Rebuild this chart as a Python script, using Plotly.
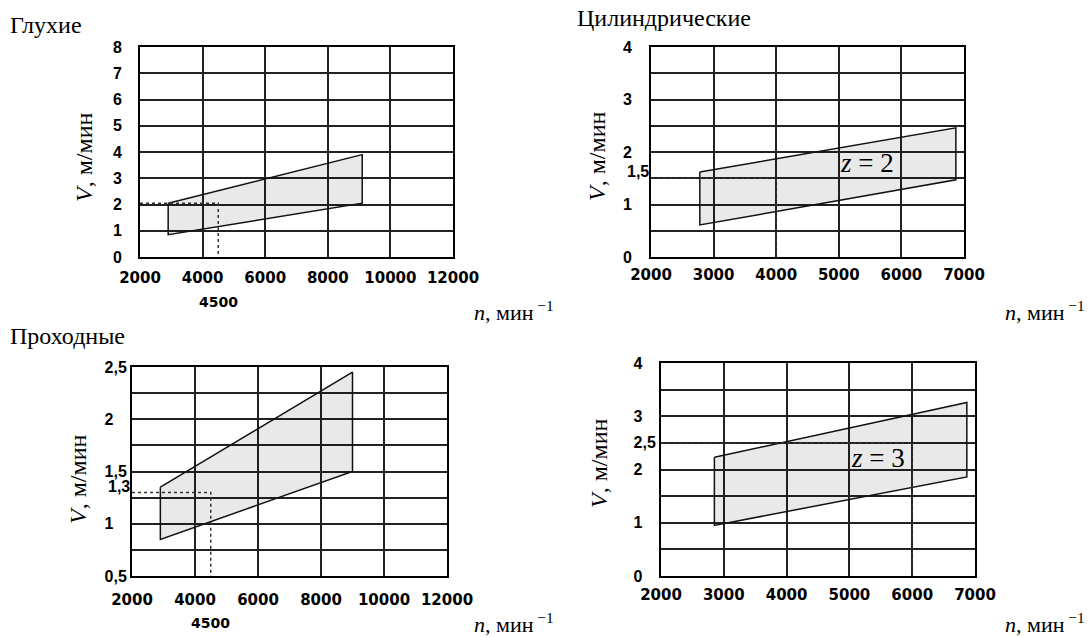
import plotly.graph_objects as go

W, H = 1088, 637

# ---------------- data ----------------
# Глухие
p1_n = [2900, 9100, 9100, 2900, 2900]
p1_v = [2.05, 3.9, 2.05, 0.85, 2.05]
p1_guide_n = [2000, 4500, 4500]
p1_guide_v = [2.05, 2.05, 0]
p1_xticks = [2000, 4000, 6000, 8000, 10000, 12000]
p1_xtext = ["2000", "4000", "6000", "8000", "10000", "12000"]
p1_yticks = [0, 1, 2, 3, 4, 5, 6, 7, 8]
p1_ytext = ["0", "1", "2", "3", "4", "5", "6", "7", "8"]
p1_extra_xlabel = "4500"
p1_extra_xvalue = 4500

# Цилиндрические, z = 2
p2_n = [2780, 6870, 6870, 2780, 2780]
p2_v = [1.62, 2.46, 1.47, 0.61, 1.62]
p2_guide_n = [2000, 4000, 4000]
p2_guide_v = [1.5, 1.5, 0]
p2_xticks = [2000, 3000, 4000, 5000, 6000, 7000]
p2_xtext = ["2000", "3000", "4000", "5000", "6000", "7000"]
p2_yticks = [0, 0.5, 1, 1.5, 2, 2.5, 3, 3.5, 4]
p2_ytext = ["0", "", "1", "", "2", "", "3", "", "4"]
p2_extra_ylabel = "1,5"
p2_extra_yvalue = 1.5

# Проходные
p3_n = [2900, 9000, 9000, 2900, 2900]
p3_v = [1.35, 2.45, 1.5, 0.85, 1.35]
p3_guide_n = [2000, 4500, 4500]
p3_guide_v = [1.3, 1.3, 0.5]
p3_xticks = [2000, 4000, 6000, 8000, 10000, 12000]
p3_xtext = ["2000", "4000", "6000", "8000", "10000", "12000"]
p3_yticks = [0.5, 0.75, 1, 1.25, 1.5, 1.75, 2, 2.25, 2.5]
p3_ytext = ["0,5", "", "1", "", "1,5", "", "2", "", "2,5"]
p3_extra_ylabel = "1,3"
p3_extra_yvalue = 1.3
p3_extra_xlabel = "4500"
p3_extra_xvalue = 4500

# Цилиндрические, z = 3
p4_n = [2850, 6870, 6870, 2850, 2850]
p4_v = [2.23, 3.26, 1.86, 0.95, 2.23]
p4_guide_n = [2000, 6000, 6000]
p4_guide_v = [2.5, 2.5, 0]
p4_xticks = [2000, 3000, 4000, 5000, 6000, 7000]
p4_xtext = ["2000", "3000", "4000", "5000", "6000", "7000"]
p4_yticks = [0, 0.5, 1, 1.5, 2, 2.5, 3, 3.5, 4]
p4_ytext = ["0", "", "1", "", "2", "2,5", "3", "", "4"]

# ---------------- figure ----------------
fig = go.Figure()

FILL = "rgba(0,0,0,0.085)"
panels = [
    (p1_n, p1_v, p1_guide_n, p1_guide_v, "x", "y"),
    (p2_n, p2_v, p2_guide_n, p2_guide_v, "x2", "y2"),
    (p3_n, p3_v, p3_guide_n, p3_guide_v, "x3", "y3"),
    (p4_n, p4_v, p4_guide_n, p4_guide_v, "x4", "y4"),
]
for pn, pv, gn, gv, xa, ya in panels:
    fig.add_trace(go.Scatter(x=pn, y=pv, xaxis=xa, yaxis=ya, mode="lines",
                             fill="toself", fillcolor=FILL,
                             line=dict(color="#111", width=1.5),
                             showlegend=False, hoverinfo="skip"))
    fig.add_trace(go.Scatter(x=gn, y=gv, xaxis=xa, yaxis=ya, mode="lines",
                             line=dict(color="#333", width=1.5, dash="3px,3px"),
                             showlegend=False, hoverinfo="skip"))

XFONT = dict(family="DejaVu Sans", size=15, color="black", weight="bold")
YFONT = dict(family="Liberation Sans", size=16, color="black", weight="bold")

# white (invisible on the white page) tail so short labels line up on the left
GHOST = '<span style="color:#ffffff">,5</span>'


def padded(texts):
    width = max(len(t) for t in texts)
    out = []
    for t in texts:
        if t and len(t) < width:
            out.append(t + GHOST)
        else:
            out.append(t if t else " ")
    return out


def blankfix(texts):
    return [t if t else " " for t in texts]


def xax(domain, rng, tv, tt, standoff, anchor):
    return dict(domain=domain, range=rng, tickmode="array", tickvals=tv, ticktext=tt,
                anchor=anchor, automargin=False,
                showline=True, linecolor="black", linewidth=2, mirror=True,
                showgrid=True, gridcolor="#222", gridwidth=1.7, zeroline=False,
                ticks="outside", ticklen=0, tickcolor="rgba(0,0,0,0)",
                ticklabelstandoff=standoff, tickfont=XFONT, fixedrange=True)


def yax(domain, rng, tv, tt, standoff, anchor):
    d = xax(domain, rng, tv, tt, standoff, anchor)
    d["tickfont"] = YFONT
    return d


def px(v):
    return v / W


def py(v):
    return 1 - v / H


fig.update_layout(
    xaxis=xax([px(140), px(453)], [2000, 12000], p1_xticks, p1_xtext, 6, "y"),
    yaxis=yax([py(257), py(47)], [0, 8], p1_yticks, blankfix(p1_ytext), 13, "x"),
    xaxis2=xax([px(651), px(964)], [2000, 7000], p2_xticks, p2_xtext, 3, "y2"),
    yaxis2=yax([py(257), py(47)], [0, 4], p2_yticks, blankfix(p2_ytext), 14, "x2"),
    xaxis3=xax([px(132), px(447)], [2000, 12000], p3_xticks, p3_xtext, 9, "y3"),
    yaxis3=yax([py(576), py(367)], [0.5, 2.5], p3_yticks, padded(p3_ytext), 0, "x3"),
    xaxis4=xax([px(661), px(975)], [2000, 7000], p4_xticks, p4_xtext, 4, "y4"),
    yaxis4=yax([py(576), py(363)], [0, 4], p4_yticks, padded(p4_ytext), 0, "x4"),
)

SERIF = "Liberation Serif"
ann = []
# panel titles
for txt, x0, y0 in [("Глухие", 8, 25), ("Цилиндрические", 575, 18), ("Проходные", 8, 336)]:
    ann.append(dict(text=txt, x=px(x0), y=py(y0), xanchor="left", yanchor="middle",
                    xref="paper", yref="paper", showarrow=False,
                    font=dict(family=SERIF, size=24, color="black")))

# y-axis titles
for cx, cy in [(84, 157), (597, 156), (78, 479), (599, 463)]:
    ann.append(dict(text="<i>V</i>, м/мин", textangle=-90, x=px(cx), y=py(cy),
                    xref="paper", yref="paper", xanchor="center", yanchor="middle",
                    showarrow=False, font=dict(family=SERIF, size=24, color="black")))
# x-axis titles
for rx, cy in [(556, 311), (1087, 311), (556, 623), (1087, 623)]:
    ann.append(dict(text="<i>n</i>, мин<sup> −1</sup>", x=px(rx), y=py(cy),
                    xref="paper", yref="paper", xanchor="right", yanchor="middle",
                    showarrow=False, font=dict(family=SERIF, size=22, color="black")))

# extra tick labels (placed slightly above their guide lines, as in the original)
ann.append(dict(text=p1_extra_xlabel, x=p1_extra_xvalue, y=py(302), xref="x", yref="paper",
                xanchor="center", yanchor="middle", showarrow=False,
                font=dict(family="DejaVu Sans", size=14, color="black", weight="bold")))
ann.append(dict(text=p3_extra_xlabel, x=p3_extra_xvalue, y=py(623), xref="x3", yref="paper",
                xanchor="center", yanchor="middle", showarrow=False,
                font=dict(family="DejaVu Sans", size=14, color="black", weight="bold")))
ann.append(dict(text=p3_extra_ylabel, x=px(106), y=p3_extra_yvalue, xref="paper", yref="y3",
                xanchor="left", yanchor="middle", yshift=6, showarrow=False, font=YFONT))
ann.append(dict(text=p2_extra_ylabel, x=px(625), y=p2_extra_yvalue, xref="paper", yref="y2",
                xanchor="left", yanchor="middle", yshift=7, showarrow=False, font=YFONT))

# z labels
ann.append(dict(text="<i>z</i> = 2", x=5450, y=1.79, xref="x2", yref="y2",
                xanchor="center", yanchor="middle", showarrow=False,
                font=dict(family=SERIF, size=27, color="black")))
ann.append(dict(text="<i>z</i> = 3", x=5455, y=2.22, xref="x4", yref="y4",
                xanchor="center", yanchor="middle", showarrow=False,
                font=dict(family=SERIF, size=27, color="black")))

fig.update_layout(annotations=ann, width=W, height=H, autosize=False,
                  margin=dict(l=0, r=0, t=0, b=0, pad=0),
                  paper_bgcolor="white", plot_bgcolor="white", showlegend=False)

fig.write_html("out.html", config={"displayModeBar": False},
               post_script="document.body.style.margin='0';"
                           "document.body.style.overflow='hidden';")
